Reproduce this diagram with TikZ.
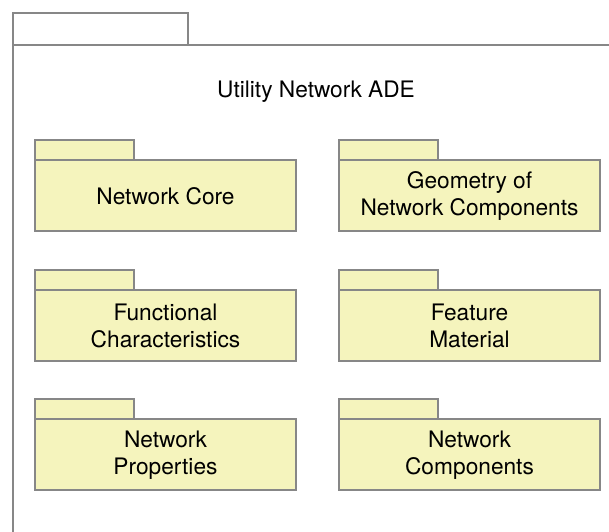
\documentclass[tikz,border=0pt]{standalone}
\usepackage{fontspec}
\setmainfont{TeX Gyre Heros}
\begin{document}
\begin{tikzpicture}[x=1pt,y=-1pt,
  pkgline/.style={draw=black!47,line width=1.8pt},
  pkgfill/.style={pkgline,fill=pkgyellow},
  pkglabel/.style={font=\fontsize{22.7}{27.5}\selectfont,align=center,text=black}]
\definecolor{pkgyellow}{HTML}{F5F4BD}
\useasboundingbox (0,0) rectangle (609,531);
\clip (0,0) rectangle (609,531);
% outer package
\draw[pkgline] (13,45) rectangle (188,13);
\draw[pkgline] (13,545) -- (13,45) -- (620,45);
\node[pkglabel] (title) at (316,91.5) {Utility Network ADE};
% inner packages
\newcommand{\pkgbox}[4]{%
  \draw[pkgfill] (#1,#2-20) rectangle (#1+99,#2);
  \draw[pkgfill] (#1,#2) rectangle (#1+261,#2+71);
  \node[pkglabel] (#3) at (#1+130.5,#2+36) {#4};}
\pkgbox{35}{160}{core}{Network Core}
\pkgbox{339}{160}{geom}{Geometry of\\Network Components}
\pkgbox{35}{290}{func}{Functional\\Characteristics}
\pkgbox{339}{290}{mat}{Feature\\Material}
\pkgbox{35}{419}{prop}{Network\\Properties}
\pkgbox{339}{419}{comp}{Network\\Components}
\end{tikzpicture}
\end{document}
